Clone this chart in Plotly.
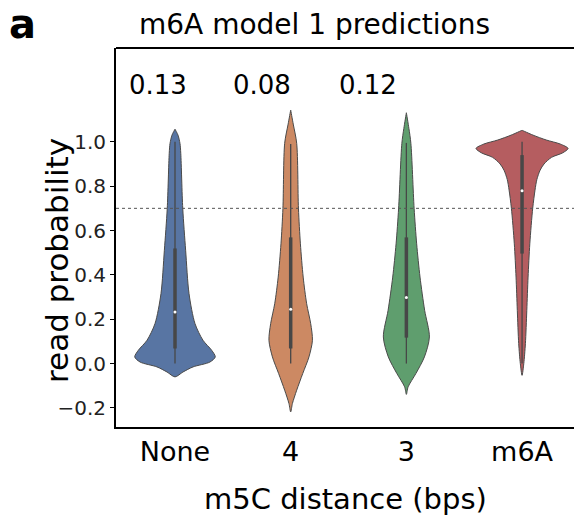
import plotly.graph_objects as go

# ---------------- data ----------------
categories = ["None", "4", "3", "m6A"]
colors = ["#5875A3", "#CC8963", "#5F9E6E", "#B55D60"]

# density profiles: y levels and half-widths (in category units)
none_y = [-0.06, -0.038, -0.015, 0.007, 0.03, 0.06, 0.105, 0.18, 0.316, 0.511, 0.70, 0.948, 0.993, 1.03, 1.057]
none_w = [0.0, 0.069, 0.156, 0.302, 0.348, 0.317, 0.242, 0.173, 0.121, 0.092, 0.067, 0.050, 0.043, 0.026, 0.0]

d4_y = [-0.218, -0.18, -0.12, -0.045, 0.03, 0.105, 0.18, 0.27, 0.39, 0.54, 0.70, 0.993, 1.08, 1.143]
d4_w = [0.0, 0.015, 0.052, 0.104, 0.158, 0.188, 0.173, 0.138, 0.108, 0.084, 0.067, 0.052, 0.022, 0.0]

d3_y = [-0.139, -0.105, -0.045, 0.03, 0.12, 0.24, 0.39, 0.54, 0.70, 0.993, 1.06, 1.131]
d3_w = [0.0, 0.015, 0.082, 0.156, 0.199, 0.158, 0.118, 0.089, 0.067, 0.039, 0.022, 0.0]

m6a_y = [-0.053, 0.0, 0.09, 0.24, 0.39, 0.54, 0.70, 0.782, 0.83, 0.872, 0.90, 0.93, 0.95, 0.97, 0.99, 1.008, 1.03, 1.052]
m6a_w = [0.0, 0.015, 0.029, 0.041, 0.052, 0.067, 0.092, 0.112, 0.128, 0.156, 0.19, 0.255, 0.35, 0.398, 0.33, 0.21, 0.095, 0.0]

profiles_y = [none_y, d4_y, d3_y, m6a_y]
profiles_w = [none_w, d4_w, d3_w, m6a_w]

# inner box statistics
whisker_lo = [0.0, 0.0, 0.0, 0.0]
whisker_hi = [1.0, 0.99, 0.995, 1.0]
q1 = [0.068, 0.068, 0.117, 0.496]
q3 = [0.519, 0.569, 0.569, 0.94]
medians = [0.233, 0.245, 0.298, 0.779]

fraction_labels = ["0.13", "0.08", "0.12"]
threshold = 0.7

ytick_vals = [-0.2, 0.0, 0.2, 0.4, 0.6, 0.8, 1.0]
ytick_text = ["\u22120.2", "0.0", "0.2", "0.4", "0.6", "0.8", "1.0"]

# ---------------- layout geometry ----------------
W, H = 574, 517
L, T, B = 116, 48, 90
plot_w = W - L
plot_h = H - T - B
xr = [-0.51, 3.449]
yr = [-0.286, 1.423]

def paper_x(px):
    return (px - L) / plot_w

def paper_y(py):
    return (H - B - py) / plot_h

FONT = "DejaVu Sans"
fig = go.Figure()

for i, (ys, ws) in enumerate(zip(profiles_y, profiles_w)):
    xs = [i + w for w in ws] + [i - w for w in reversed(ws)]
    yy = list(ys) + list(reversed(ys))
    fig.add_trace(go.Scatter(
        x=xs, y=yy, mode="lines", fill="toself", fillcolor=colors[i],
        line=dict(color="#4a4a4a", width=1, shape="spline", smoothing=0.8),
        hoverinfo="skip", showlegend=False))
    # whisker
    fig.add_trace(go.Scatter(
        x=[i, i], y=[whisker_lo[i], whisker_hi[i]], mode="lines",
        line=dict(color="#474747", width=1.3), hoverinfo="skip", showlegend=False))
    # box
    fig.add_trace(go.Scatter(
        x=[i, i], y=[q1[i], q3[i]], mode="lines",
        line=dict(color="#474747", width=3.5), hoverinfo="skip", showlegend=False))
    # median
    fig.add_trace(go.Scatter(
        x=[i], y=[medians[i]], mode="markers",
        marker=dict(color="white", size=3), hoverinfo="skip", showlegend=False))

fig.add_hline(y=threshold, line=dict(color="#555555", width=1, dash="dot"))

# top spine (right spine is outside the cropped view)
fig.add_shape(type="line", xref="paper", yref="paper", x0=0, x1=1, y0=1, y1=1,
              line=dict(color="black", width=2))

label_x_px = [157.5, 262, 367.5]
for lab, px in zip(fraction_labels, label_x_px):
    fig.add_annotation(x=paper_x(px), y=paper_y(85), xref="paper", yref="paper",
                       text=lab, showarrow=False, font=dict(family=FONT, size=26, color="black"),
                       xanchor="center", yanchor="middle")

fig.add_annotation(x=paper_x(314), y=paper_y(25), xref="paper", yref="paper",
                   text="m6A model 1 predictions", showarrow=False,
                   font=dict(family=FONT, size=28, color="black"), xanchor="center", yanchor="middle")
fig.add_annotation(x=paper_x(22.5), y=paper_y(24), xref="paper", yref="paper",
                   text="<b>a</b>", showarrow=False,
                   font=dict(family=FONT, size=40, color="black"), xanchor="center", yanchor="middle")
fig.add_annotation(x=paper_x(57), y=paper_y(261), xref="paper", yref="paper",
                   text="read probability", showarrow=False, textangle=-90,
                   font=dict(family=FONT, size=31, color="black"), xanchor="center", yanchor="middle")
fig.add_annotation(x=paper_x(345), y=paper_y(499), xref="paper", yref="paper",
                   text="m5C distance (bps)", showarrow=False,
                   font=dict(family=FONT, size=29, color="black"), xanchor="center", yanchor="middle")

fig.update_layout(
    width=W, height=H,
    margin=dict(l=L, r=0, t=T, b=B, pad=0),
    paper_bgcolor="white", plot_bgcolor="white",
    font=dict(family=FONT, color="black"),
    xaxis=dict(range=xr, tickvals=list(range(len(categories))), ticktext=categories,
               showgrid=False, zeroline=False, showline=True, linecolor="black", linewidth=2,
               ticks="", tickfont=dict(family=FONT, size=27, color="black")),
    yaxis=dict(range=yr, tickvals=ytick_vals, ticktext=ytick_text,
               showgrid=False, zeroline=False, showline=True, linecolor="black", linewidth=2,
               ticks="outside", ticklen=4, tickwidth=1, tickcolor="black",
               tickfont=dict(family=FONT, size=20, color="#222222")),
)

fig.write_html("out.html", config={"displayModeBar": False},
               post_script="document.body.style.margin='0';document.body.style.overflow='hidden';")
